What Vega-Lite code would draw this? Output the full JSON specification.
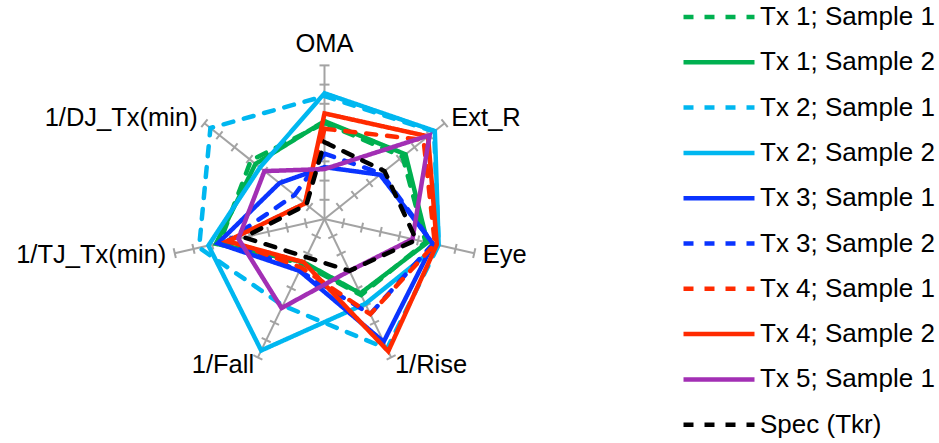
{
  "$schema": "https://vega.github.io/schema/vega-lite/v6.json",
  "width": 939,
  "height": 443,
  "autosize": "none",
  "padding": 0,
  "background": "white",
  "config": {"view": {"stroke": null}, "font": "Liberation Sans"},
  "datasets": {
    "axes": [
      {"axis": "OMA", "k": 0, "ticks": [1, 2, 3, 4, 5, 6, 7, 8]},
      {"axis": "Ext_R", "k": 1, "ticks": [1, 2, 3, 4, 5, 6, 7, 8]},
      {"axis": "Eye", "k": 2, "ticks": [1, 2, 3, 4, 5, 6, 7, 8]},
      {"axis": "1/Rise", "k": 3, "ticks": [1, 2, 3, 4, 5, 6, 7, 8]},
      {"axis": "1/Fall", "k": 4, "ticks": [1, 2, 3, 4, 5, 6, 7, 8]},
      {"axis": "1/TJ_Tx(min)", "k": 5, "ticks": [1, 2, 3, 4, 5, 6, 7, 8]},
      {"axis": "1/DJ_Tx(min)", "k": 6, "ticks": [1, 2, 3, 4, 5, 6, 7, 8]}
    ],
    "series": [
      {"series": "Tx 1; Sample 1", "k": 0, "value": 5.0},
      {"series": "Tx 1; Sample 1", "k": 1, "value": 5.2},
      {"series": "Tx 1; Sample 1", "k": 2, "value": 5.4},
      {"series": "Tx 1; Sample 1", "k": 3, "value": 4.4},
      {"series": "Tx 1; Sample 1", "k": 4, "value": 2.6},
      {"series": "Tx 1; Sample 1", "k": 5, "value": 5.6},
      {"series": "Tx 1; Sample 1", "k": 6, "value": 4.9},
      {"series": "Tx 1; Sample 2", "k": 0, "value": 5.1},
      {"series": "Tx 1; Sample 2", "k": 1, "value": 5.4},
      {"series": "Tx 1; Sample 2", "k": 2, "value": 5.5},
      {"series": "Tx 1; Sample 2", "k": 3, "value": 4.3},
      {"series": "Tx 1; Sample 2", "k": 4, "value": 2.5},
      {"series": "Tx 1; Sample 2", "k": 5, "value": 5.8},
      {"series": "Tx 1; Sample 2", "k": 6, "value": 4.6},
      {"series": "Tx 2; Sample 1", "k": 0, "value": 6.4},
      {"series": "Tx 2; Sample 1", "k": 1, "value": 7.3},
      {"series": "Tx 2; Sample 1", "k": 2, "value": 6.1},
      {"series": "Tx 2; Sample 1", "k": 3, "value": 7.5},
      {"series": "Tx 2; Sample 1", "k": 4, "value": 5.0},
      {"series": "Tx 2; Sample 1", "k": 5, "value": 6.7},
      {"series": "Tx 2; Sample 1", "k": 6, "value": 7.6},
      {"series": "Tx 2; Sample 2", "k": 0, "value": 6.55},
      {"series": "Tx 2; Sample 2", "k": 1, "value": 7.35},
      {"series": "Tx 2; Sample 2", "k": 2, "value": 6.1},
      {"series": "Tx 2; Sample 2", "k": 3, "value": 4.9},
      {"series": "Tx 2; Sample 2", "k": 4, "value": 7.6},
      {"series": "Tx 2; Sample 2", "k": 5, "value": 6.2},
      {"series": "Tx 2; Sample 2", "k": 6, "value": 4.3},
      {"series": "Tx 3; Sample 1", "k": 0, "value": 2.7},
      {"series": "Tx 3; Sample 1", "k": 1, "value": 3.7},
      {"series": "Tx 3; Sample 1", "k": 2, "value": 5.8},
      {"series": "Tx 3; Sample 1", "k": 3, "value": 7.1},
      {"series": "Tx 3; Sample 1", "k": 4, "value": 3.0},
      {"series": "Tx 3; Sample 1", "k": 5, "value": 5.7},
      {"series": "Tx 3; Sample 1", "k": 6, "value": 3.0},
      {"series": "Tx 3; Sample 2", "k": 0, "value": 3.4},
      {"series": "Tx 3; Sample 2", "k": 1, "value": 3.8},
      {"series": "Tx 3; Sample 2", "k": 2, "value": 5.8},
      {"series": "Tx 3; Sample 2", "k": 3, "value": 5.5},
      {"series": "Tx 3; Sample 2", "k": 4, "value": 3.0},
      {"series": "Tx 3; Sample 2", "k": 5, "value": 5.2},
      {"series": "Tx 3; Sample 2", "k": 6, "value": 2.0},
      {"series": "Tx 4; Sample 1", "k": 0, "value": 4.7},
      {"series": "Tx 4; Sample 1", "k": 1, "value": 6.6},
      {"series": "Tx 4; Sample 1", "k": 2, "value": 5.9},
      {"series": "Tx 4; Sample 1", "k": 3, "value": 5.5},
      {"series": "Tx 4; Sample 1", "k": 4, "value": 2.8},
      {"series": "Tx 4; Sample 1", "k": 5, "value": 5.1},
      {"series": "Tx 4; Sample 1", "k": 6, "value": 1.3},
      {"series": "Tx 4; Sample 2", "k": 0, "value": 5.5},
      {"series": "Tx 4; Sample 2", "k": 1, "value": 6.9},
      {"series": "Tx 4; Sample 2", "k": 2, "value": 6.0},
      {"series": "Tx 4; Sample 2", "k": 3, "value": 7.65},
      {"series": "Tx 4; Sample 2", "k": 4, "value": 2.5},
      {"series": "Tx 4; Sample 2", "k": 5, "value": 5.2},
      {"series": "Tx 4; Sample 2", "k": 6, "value": 1.3},
      {"series": "Tx 5; Sample 1", "k": 0, "value": 2.6},
      {"series": "Tx 5; Sample 1", "k": 1, "value": 7.0},
      {"series": "Tx 5; Sample 1", "k": 2, "value": 4.7},
      {"series": "Tx 5; Sample 1", "k": 3, "value": 3.0},
      {"series": "Tx 5; Sample 1", "k": 4, "value": 5.15},
      {"series": "Tx 5; Sample 1", "k": 5, "value": 4.6},
      {"series": "Tx 5; Sample 1", "k": 6, "value": 4.0},
      {"series": "Spec (Tkr)", "k": 0, "value": 4.0},
      {"series": "Spec (Tkr)", "k": 1, "value": 4.0},
      {"series": "Spec (Tkr)", "k": 2, "value": 4.9},
      {"series": "Spec (Tkr)", "k": 3, "value": 3.0},
      {"series": "Spec (Tkr)", "k": 4, "value": 2.2},
      {"series": "Spec (Tkr)", "k": 5, "value": 4.3},
      {"series": "Spec (Tkr)", "k": 6, "value": 1.2}
    ]
  },
  "encoding": {
    "x": {"field": "px", "type": "quantitative", "scale": {"domain": [-16.901, 32.005], "nice": false, "zero": false}, "axis": null},
    "y": {"field": "py", "type": "quantitative", "scale": {"domain": [-11.667, 11.406], "nice": false, "zero": false}, "axis": null}
  },
  "layer": [
    {
      "data": {"name": "axes"},
      "transform": [
        {"calculate": "datum.k * 2 * PI / 7", "as": "a"},
        {"calculate": "0", "as": "px"},
        {"calculate": "0", "as": "py"},
        {"calculate": "8 * sin(datum.a)", "as": "qx"},
        {"calculate": "8 * cos(datum.a)", "as": "qy"}
      ],
      "mark": {"type": "rule", "color": "#A3A3A3", "strokeWidth": 2},
      "encoding": {
        "x2": {"field": "qx"},
        "y2": {"field": "qy"}
      }
    },
    {
      "data": {"name": "axes"},
      "transform": [
        {"flatten": ["ticks"]},
        {"calculate": "datum.k * 2 * PI / 7", "as": "a"},
        {"calculate": "datum.ticks * sin(datum.a)", "as": "px"},
        {"calculate": "datum.ticks * cos(datum.a)", "as": "py"},
        {"calculate": "datum.k * 360 / 7", "as": "deg"}
      ],
      "mark": {"type": "point", "shape": "M-1,0L1,0", "filled": false, "stroke": "#A3A3A3", "strokeWidth": 2, "size": 100, "opacity": 1},
      "encoding": {
        "angle": {"field": "deg", "type": "quantitative", "scale": null}
      }
    },
    {
      "data": {"name": "series"},
      "transform": [
        {"calculate": "datum.k * 2 * PI / 7", "as": "a"},
        {"calculate": "datum.value * sin(datum.a)", "as": "px"},
        {"calculate": "datum.value * cos(datum.a)", "as": "py"}
      ],
      "mark": {"type": "line", "interpolate": "linear-closed", "strokeWidth": 4.5, "strokeCap": "round", "strokeJoin": "miter"},
      "encoding": {
        "order": {"field": "k", "type": "quantitative"},
        "color": {
          "field": "series", "type": "nominal",
          "scale": {
            "domain": ["Tx 1; Sample 1", "Tx 1; Sample 2", "Tx 2; Sample 1", "Tx 2; Sample 2", "Tx 3; Sample 1", "Tx 3; Sample 2", "Tx 4; Sample 1", "Tx 4; Sample 2", "Tx 5; Sample 1", "Spec (Tkr)"],
            "range": ["#00B050", "#00B050", "#00B7F0", "#00B7F0", "#0A34FF", "#0A34FF", "#FF2A00", "#FF2A00", "#A22FB4", "#000000"]
          },
          "legend": {"title": null, "orient": "none", "legendX": 681, "legendY": 4, "symbolType": "stroke", "symbolSize": 5041, "symbolStrokeWidth": 4.5, "labelFontSize": 26, "labelFont": "Liberation Sans", "labelColor": "#000000", "labelOffset": 3, "clipHeight": 26, "rowPadding": 19.3, "padding": 0, "labelLimit": 400, "symbolOpacity": 1}
        },
        "strokeDash": {
          "field": "series", "type": "nominal",
          "scale": {
            "domain": ["Tx 1; Sample 1", "Tx 1; Sample 2", "Tx 2; Sample 1", "Tx 2; Sample 2", "Tx 3; Sample 1", "Tx 3; Sample 2", "Tx 4; Sample 1", "Tx 4; Sample 2", "Tx 5; Sample 1", "Spec (Tkr)"],
            "range": [[10, 11], [1, 0], [10, 11], [1, 0], [1, 0], [10, 11], [10, 11], [1, 0], [1, 0], [10, 11]]
          },
          "legend": {"title": null, "orient": "none", "legendX": 681, "legendY": 4, "symbolType": "stroke", "symbolSize": 5041, "symbolStrokeWidth": 4.5, "labelFontSize": 26, "labelFont": "Liberation Sans", "labelColor": "#000000", "labelOffset": 3, "clipHeight": 26, "rowPadding": 19.3, "padding": 0, "labelLimit": 400, "symbolOpacity": 1}
        }
      }
    },
    {
      "data": {"name": "axes"},
      "transform": [
        {"filter": "datum.k == 0"},
        {"calculate": "datum.k * 2 * PI / 7", "as": "a"},
        {"calculate": "8.45 * sin(datum.a)", "as": "px"},
        {"calculate": "8.45 * cos(datum.a)", "as": "py"}
      ],
      "mark": {"type": "text", "align": "center", "baseline": "bottom", "fontSize": 25.5, "font": "Liberation Sans", "color": "#000000"},
      "encoding": {"text": {"field": "axis"}}
    },
    {
      "data": {"name": "axes"},
      "transform": [
        {"filter": "datum.k >= 1 && datum.k <= 3"},
        {"calculate": "datum.k * 2 * PI / 7", "as": "a"},
        {"calculate": "8.45 * sin(datum.a)", "as": "px"},
        {"calculate": "8.45 * cos(datum.a)", "as": "py"}
      ],
      "mark": {"type": "text", "align": "left", "baseline": "middle", "fontSize": 25.5, "font": "Liberation Sans", "color": "#000000"},
      "encoding": {"text": {"field": "axis"}}
    },
    {
      "data": {"name": "axes"},
      "transform": [
        {"filter": "datum.k >= 4"},
        {"calculate": "datum.k * 2 * PI / 7", "as": "a"},
        {"calculate": "8.45 * sin(datum.a)", "as": "px"},
        {"calculate": "8.45 * cos(datum.a)", "as": "py"}
      ],
      "mark": {"type": "text", "align": "right", "baseline": "middle", "fontSize": 25.5, "font": "Liberation Sans", "color": "#000000"},
      "encoding": {"text": {"field": "axis"}}
    }
  ]
}
